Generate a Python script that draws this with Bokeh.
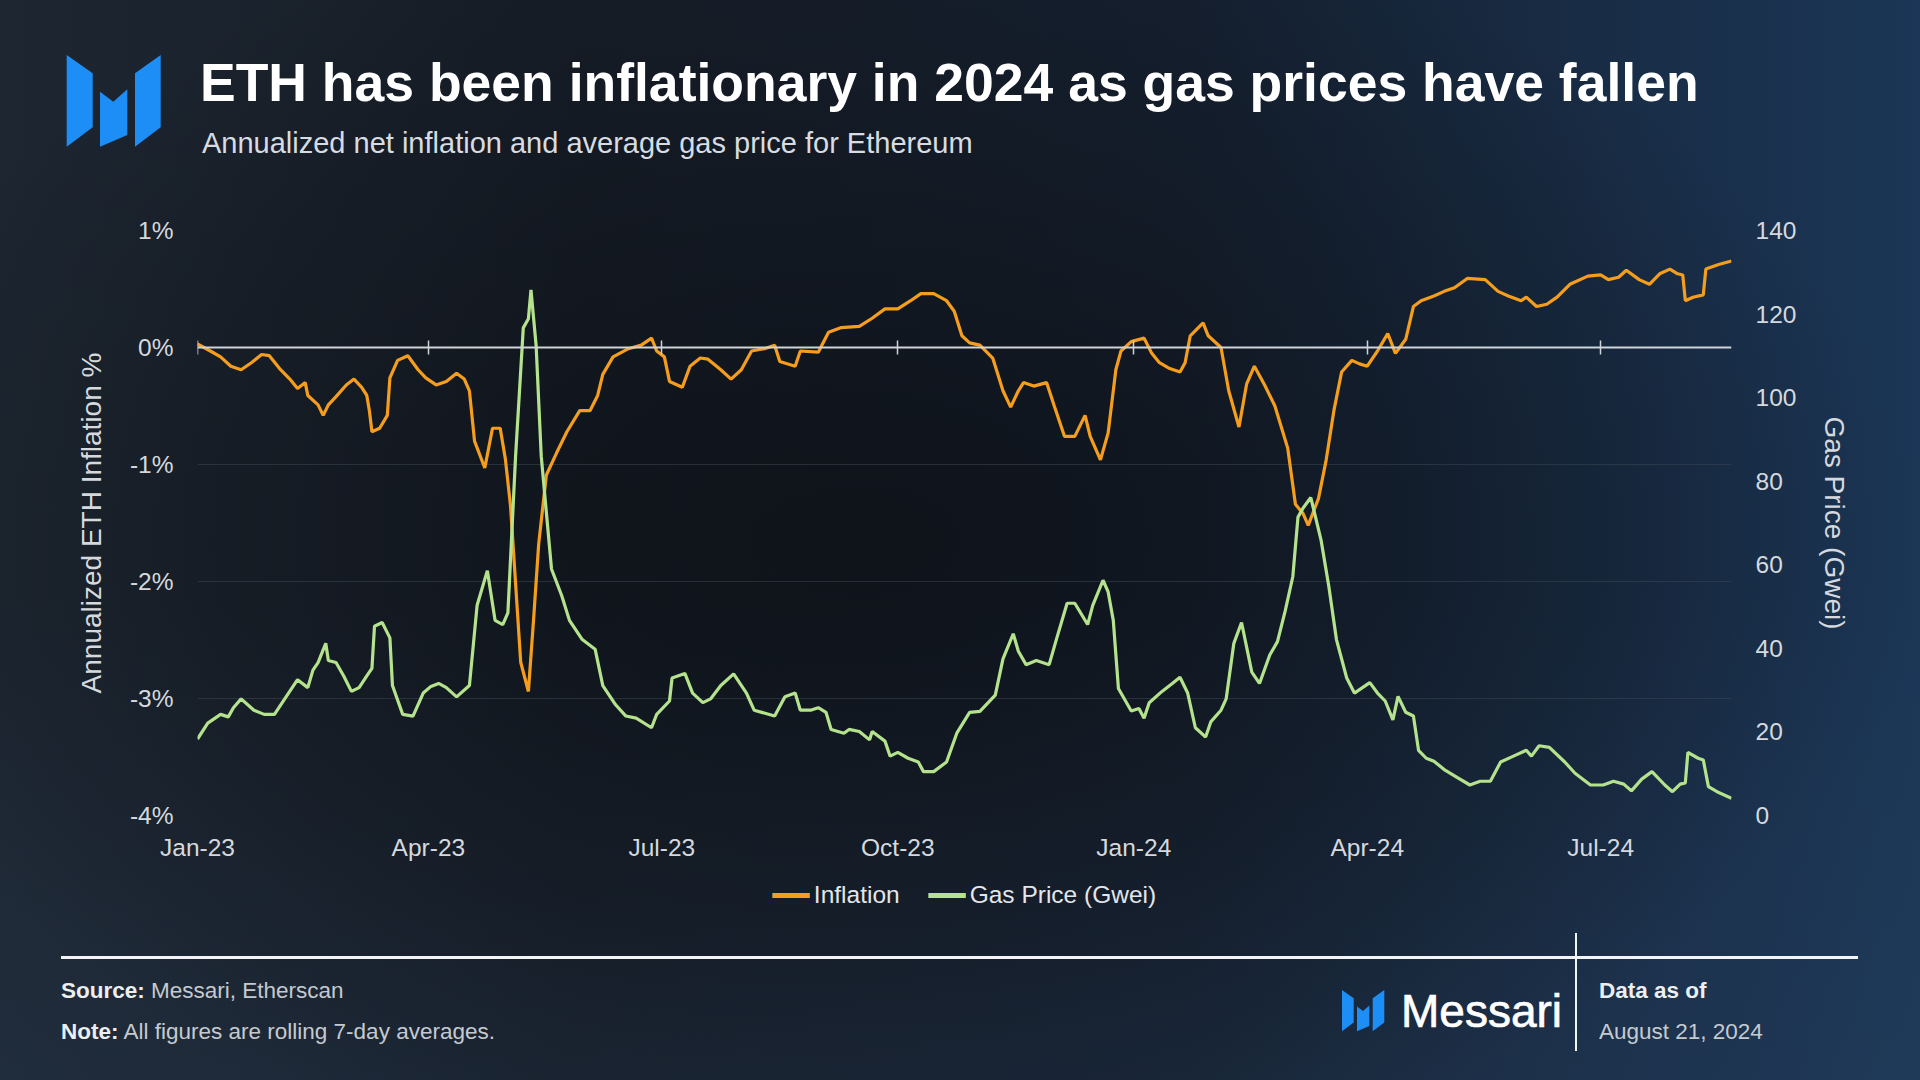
from datetime import datetime, timedelta
from bokeh.plotting import figure
from bokeh.layouts import column
from bokeh.models import (Range1d, LinearAxis, DatetimeAxis, FixedTicker, DatetimeTickFormatter,
                          PrintfTickFormatter, Legend, LegendItem, Div)
from bokeh.embed import file_html
from bokeh.resources import INLINE

# ---------------- data ----------------
START = "2023-01-01"
END = "2024-08-21"

INFL_DAY = [0, 5, 9, 13, 17, 21, 25, 28, 32, 36,
            39, 42, 43, 47, 49, 51, 54, 58, 61, 64,
            66, 67, 68, 71, 74, 75, 78, 82, 86, 89,
            93, 97, 101, 104, 106, 108, 112, 115, 118, 120,
            122, 123, 126, 129, 131, 133, 136, 140, 144, 149,
            153, 156, 158, 162, 168, 173, 177, 179, 182, 184,
            189, 192, 196, 199, 204, 208, 212, 216, 221, 225,
            227, 233, 235, 242, 246, 251, 258, 263, 268, 273,
            278, 282, 287, 292, 295, 298, 301, 305, 310, 314,
            317, 320, 322, 326, 331, 334, 338, 342, 346, 348,
            352, 355, 358, 360, 364, 369, 372, 375, 379, 383,
            385, 387, 392, 394, 399, 402, 406, 409, 412, 416,
            420, 425, 428, 431, 433, 437, 440, 443, 446, 450,
            453, 456, 460, 464, 467, 471, 474, 477, 482, 486,
            490, 495, 502, 507, 511, 516, 518, 522, 526, 530,
            535, 542, 547, 550, 554, 557, 562, 566, 570, 574,
            577, 579, 580, 583, 587, 588, 593, 598]
INFL_PCT = [0.03, -0.03, -0.08, -0.16, -0.19, -0.13, -0.06, -0.07, -0.18, -0.27,
            -0.35, -0.30, -0.41, -0.49, -0.58, -0.49, -0.42, -0.32, -0.27, -0.34,
            -0.41, -0.54, -0.72, -0.69, -0.58, -0.26, -0.11, -0.07, -0.19, -0.26,
            -0.32, -0.29, -0.22, -0.27, -0.37, -0.80, -1.03, -0.69, -0.69, -0.95,
            -1.35, -1.68, -2.69, -2.94, -2.33, -1.68, -1.09, -0.90, -0.72, -0.54,
            -0.54, -0.41, -0.23, -0.08, -0.01, 0.02, 0.08, -0.03, -0.08, -0.29,
            -0.34, -0.16, -0.09, -0.10, -0.19, -0.27, -0.19, -0.03, -0.01, 0.02,
            -0.12, -0.16, -0.03, -0.04, 0.13, 0.17, 0.18, 0.25, 0.33, 0.33,
            0.40, 0.46, 0.46, 0.40, 0.31, 0.10, 0.04, 0.02, -0.09, -0.37,
            -0.51, -0.37, -0.30, -0.33, -0.30, -0.50, -0.76, -0.76, -0.58, -0.76,
            -0.96, -0.73, -0.19, -0.03, 0.05, 0.08, -0.05, -0.13, -0.18, -0.21,
            -0.13, 0.10, 0.21, 0.10, 0.00, -0.37, -0.68, -0.31, -0.16, -0.32,
            -0.50, -0.86, -1.34, -1.42, -1.52, -1.29, -0.96, -0.54, -0.21, -0.11,
            -0.14, -0.16, -0.03, 0.12, -0.05, 0.07, 0.35, 0.40, 0.44, 0.48,
            0.51, 0.59, 0.58, 0.48, 0.44, 0.40, 0.43, 0.35, 0.37, 0.43,
            0.54, 0.61, 0.62, 0.58, 0.60, 0.66, 0.58, 0.54, 0.63, 0.67,
            0.63, 0.62, 0.40, 0.43, 0.45, 0.67, 0.71, 0.74]

GAS_DAY = [0, 4, 9, 12, 14, 17, 22, 26, 30, 34,
           39, 43, 45, 47, 50, 51, 54, 57, 60, 63,
           66, 68, 69, 72, 75, 76, 80, 84, 88, 91,
           94, 97, 101, 106, 109, 113, 116, 119, 121, 124,
           127, 129, 130, 132, 134, 138, 142, 145, 150, 155,
           158, 163, 167, 171, 177, 179, 184, 185, 190, 193,
           197, 200, 204, 209, 214, 217, 225, 229, 233, 235,
           239, 242, 245, 247, 252, 254, 258, 262, 263, 268,
           270, 273, 277, 281, 283, 287, 292, 296, 301, 305,
           311, 314, 318, 320, 323, 327, 332, 335, 339, 342,
           347, 349, 353, 355, 357, 359, 364, 367, 369, 371,
           376, 380, 383, 386, 389, 393, 395, 399, 401, 404,
           407, 411, 414, 418, 421, 424, 427, 429, 431, 434,
           438, 441, 444, 448, 451, 457, 460, 463, 466, 468,
           471, 474, 476, 479, 482, 486, 491, 496, 500, 504,
           508, 513, 518, 520, 523, 527, 533, 537, 543, 548,
           552, 556, 559, 563, 567, 572, 575, 578, 580, 581,
           585, 587, 589, 593, 598]
GAS_GWEI = [18.3, 22.1, 24.2, 23.6, 25.8, 27.9, 25.2, 24.2, 24.2, 27.9,
            32.5, 30.6, 34.8, 36.6, 41.2, 37.1, 36.6, 33.4, 29.7, 30.6,
            33.4, 35.2, 45.3, 46.2, 42.5, 31.1, 24.2, 23.8, 29.3, 30.9,
            31.6, 30.6, 28.4, 31.1, 50.3, 58.6, 46.7, 45.7, 48.5, 86.0,
            116.7, 118.9, 125.8, 112.5, 86.0, 59.0, 52.6, 46.7, 42.1, 39.8,
            31.1, 26.5, 23.8, 23.3, 21.0, 24.2, 27.4, 32.9, 34.0, 29.3,
            27.0, 27.9, 31.1, 33.9, 29.3, 25.2, 23.8, 28.4, 29.3, 25.2,
            25.2, 25.8, 24.7, 20.6, 19.7, 20.6, 20.1, 18.1, 20.1, 17.8,
            14.2, 15.1, 13.7, 12.8, 10.5, 10.5, 12.8, 19.7, 24.7, 24.9,
            28.8, 37.5, 43.5, 39.3, 36.1, 37.1, 36.1, 42.5, 50.8, 50.8,
            45.7, 50.3, 56.3, 53.5, 46.7, 30.4, 25.0, 25.6, 23.3, 27.0,
            29.7, 31.6, 33.1, 29.3, 21.0, 18.8, 22.4, 25.2, 27.9, 41.2,
            46.2, 34.3, 31.6, 38.4, 41.6, 48.9, 57.2, 71.4, 73.6, 76.1,
            65.9, 54.9, 42.1, 32.9, 29.3, 31.8, 29.3, 27.4, 22.9, 28.5,
            24.7, 23.8, 15.6, 13.7, 13.0, 11.0, 9.1, 7.3, 8.2, 8.2,
            12.8, 14.2, 15.6, 14.2, 16.7, 16.3, 12.8, 10.1, 7.3, 7.3,
            8.2, 7.5, 5.9, 8.7, 10.5, 7.3, 5.7, 7.5, 7.8, 15.1,
            13.7, 13.3, 6.9, 5.5, 4.1]

XTICK_DATES = ["2023-01-01", "2023-04-01", "2023-07-01", "2023-10-01",
               "2024-01-01", "2024-04-01", "2024-07-01"]
INFL_TICKS = [-4, -3, -2, -1, 0, 1]
GAS_TICKS = [0, 20, 40, 60, 80, 100, 120, 140]

TITLE = "ETH has been inflationary in 2024 as gas prices have fallen"
SUBTITLE = "Annualized net inflation and average gas price for Ethereum"
SERIES_NAMES = ["Inflation", "Gas Price (Gwei)"]

assert len(INFL_DAY) == len(INFL_PCT)
assert len(GAS_DAY) == len(GAS_GWEI)

# ---------------- helpers ----------------
def parse(s):
    return datetime.strptime(s, "%Y-%m-%d")

EPOCH = datetime(1970, 1, 1)
def ms(d):
    return (d - EPOCH).total_seconds() * 1000.0

start = parse(START)
end = parse(END)
infl_x = [start + timedelta(days=d) for d in INFL_DAY]
gas_x = [start + timedelta(days=d) for d in GAS_DAY]
xticks = [ms(parse(s)) for s in XTICK_DATES]

FONT = "Liberation Sans"
CSS_FONT = "'Liberation Sans', Arial, sans-serif"
ORANGE = "#F59E1E"
GREEN = "#B5E28C"
TXT = "#d5d9de"
BLUE = "#1E8EF7"
W = 1920
HEAD_H = 200          # rows 0..200
MAIN_H = 665          # rows 200..865
LEG_H = 60            # rows 865..925
FOOT_H = 1080 - HEAD_H - MAIN_H - LEG_H   # rows 925..1080
FL, FR = 197, 1731    # frame left/right
FT, FB = 230, 815     # frame top/bottom

LOGO = [
    [(0, 0), (26, 18.3), (26, 72.3), (0, 91.7)],
    [(33.3, 36.7), (46.6, 46.7), (60.6, 34.3), (60.6, 80), (33.3, 91.7)],
    [(68.3, 18.3), (94, 0), (94, 72.3), (68.3, 91.7)],
]


def logo_svg(ox, oy, s):
    return "".join(
        '<polygon points="%s" fill="%s"/>' % (" ".join("%.1f,%.1f" % (ox + a * s, oy + b * s) for a, b in poly), BLUE)
        for poly in LOGO)


def abs_text(left, top, s, size, color, bold=False, extra=""):
    return ('<div style="position:absolute;left:%.1fpx;top:%.1fpx;font-size:%spx;line-height:1.2;'
            'white-space:nowrap;color:%s;font-weight:%s;%s">%s</div>'
            % (left, top, size, color, "bold" if bold else "normal", extra, s))


def top_for_baseline(baseline, size):
    return baseline - 0.9465 * size


# ---------------- header ----------------
head_html = (
    '<div style="position:relative;width:%dpx;height:%dpx;font-family:%s;">' % (W, HEAD_H, CSS_FONT)
    + '<svg style="position:absolute;left:0;top:0" width="%d" height="%d">%s</svg>' % (W, HEAD_H, logo_svg(66.7, 55, 1.0))
    + abs_text(200, top_for_baseline(101.5, 53.5), TITLE, 53.5, "#ffffff", bold=True)
    + abs_text(202, top_for_baseline(153, 29), SUBTITLE, 29, "#d8dce1")
    + '</div>')
head = Div(text=head_html, width=W, height=HEAD_H, margin=0)

# ---------------- main chart ----------------
p = figure(width=W, height=MAIN_H, output_backend="svg", toolbar_location=None,
           x_axis_type=None, y_axis_location=None,
           x_range=Range1d(start, end), y_range=Range1d(-4, 1))
p.min_border_left = FL
p.min_border_right = W - FR
p.min_border_top = FT - HEAD_H
p.min_border_bottom = HEAD_H + MAIN_H - FB
p.background_fill_alpha = 0
p.border_fill_alpha = 0
p.outline_line_color = None
p.extra_y_ranges = {"gas": Range1d(0, 140)}

xfmt = DatetimeTickFormatter(days="%b-%y", months="%b-%y", years="%b-%y",
                             hours="%b-%y", minutes="%b-%y", seconds="%b-%y",
                             milliseconds="%b-%y", microseconds="%b-%y")
xaxis = DatetimeAxis(ticker=FixedTicker(ticks=xticks), formatter=xfmt,
                     axis_line_color=None, major_tick_line_color=None, minor_tick_line_color=None,
                     major_tick_out=0, major_tick_in=0, major_label_standoff=18,
                     major_label_text_font=FONT, major_label_text_font_size="24.5px",
                     major_label_text_color=TXT)
p.add_layout(xaxis, "below")

zero_axis = DatetimeAxis(ticker=FixedTicker(ticks=xticks), formatter=xfmt, fixed_location=0,
                         axis_line_color="#cfd4da", axis_line_width=2,
                         major_tick_line_color="#cfd4da", major_tick_line_width=1.5,
                         major_tick_in=7, major_tick_out=7, minor_tick_line_color=None,
                         major_label_text_font_size="1px", major_label_text_alpha=0)
p.add_layout(zero_axis, "above")

yaxis = LinearAxis(ticker=FixedTicker(ticks=INFL_TICKS), formatter=PrintfTickFormatter(format="%d%%"),
                   axis_line_color=None, major_tick_line_color=None, minor_tick_line_color=None,
                   major_tick_out=0, major_tick_in=0, major_label_standoff=24,
                   major_label_text_font=FONT, major_label_text_font_size="24.5px",
                   major_label_text_color=TXT,
                   axis_label="Annualized ETH Inflation %", axis_label_text_font=FONT,
                   axis_label_text_font_size="28px", axis_label_text_font_style="normal",
                   axis_label_text_color=TXT, axis_label_standoff=20)
p.add_layout(yaxis, "left")

gaxis = LinearAxis(y_range_name="gas", ticker=FixedTicker(ticks=GAS_TICKS),
                   axis_line_color=None, major_tick_line_color=None, minor_tick_line_color=None,
                   major_tick_out=0, major_tick_in=0, major_label_standoff=24,
                   major_label_text_font=FONT, major_label_text_font_size="24.5px",
                   major_label_text_color=TXT,
                   axis_label="Gas Price (Gwei)", axis_label_text_font=FONT,
                   axis_label_text_font_size="28px", axis_label_text_font_style="normal",
                   axis_label_text_color=TXT, axis_label_standoff=20)
p.add_layout(gaxis, "right")

p.xgrid.visible = False
p.ygrid.ticker = FixedTicker(ticks=INFL_TICKS)
p.ygrid.grid_line_color = "#3a4552"
p.ygrid.grid_line_alpha = 0.55
p.ygrid.grid_line_width = 1

p.line(infl_x, INFL_PCT, line_color=ORANGE, line_width=3.2)
p.line(gas_x, GAS_GWEI, line_color=GREEN, line_width=3.2, y_range_name="gas")

# ---------------- legend strip ----------------
NAN = float("nan")
lg = figure(width=W, height=LEG_H, output_backend="svg", toolbar_location=None,
            x_axis_type=None, y_axis_type=None, x_range=Range1d(0, 1), y_range=Range1d(0, 1))
lg.min_border = 0
lg.min_border_left = lg.min_border_right = lg.min_border_top = lg.min_border_bottom = 0
lg.background_fill_alpha = 0
lg.border_fill_alpha = 0
lg.outline_line_color = None
lg.grid.visible = False
# legend keys only (no visible data)
k_inf = lg.line(x=[NAN], y=[NAN], line_color=ORANGE, line_width=5)
k_gas = lg.line(x=[NAN], y=[NAN], line_color=GREEN, line_width=5)
legend = Legend(items=[LegendItem(label=SERIES_NAMES[0], renderers=[k_inf]),
                       LegendItem(label=SERIES_NAMES[1], renderers=[k_gas])],
                orientation="horizontal", location="center",
                background_fill_alpha=0, border_line_color=None,
                label_text_font=FONT, label_text_font_size="24.5px", label_text_color="#e3e6ea",
                glyph_width=38, glyph_height=24, label_standoff=4, spacing=28,
                padding=4, margin=0)
lg.add_layout(legend)

# ---------------- footer ----------------
FY = HEAD_H + MAIN_H + LEG_H
fs = 22.5
foot_html = (
    '<div style="position:relative;width:%dpx;height:%dpx;font-family:%s;">' % (W, FOOT_H, CSS_FONT)
    + '<div style="position:absolute;left:61px;top:%.1fpx;width:1797px;height:3px;background:#f2f4f6;"></div>' % (955.5 - FY)
    + '<div style="position:absolute;left:1575px;top:%.1fpx;width:2px;height:118px;background:#f2f4f6;"></div>' % (933 - FY)
    + '<svg style="position:absolute;left:0;top:0" width="%d" height="%d">%s</svg>' % (W, FOOT_H, logo_svg(1342, 990 - FY, 0.45))
    + abs_text(61, top_for_baseline(998, fs) - FY,
               '<b style="color:#eceef0">Source:</b> Messari, Etherscan', fs, "#c5cad0")
    + abs_text(61, top_for_baseline(1039.5, fs) - FY,
               '<b style="color:#eceef0">Note:</b> All figures are rolling 7-day averages.', fs, "#c5cad0")
    + abs_text(1401, top_for_baseline(1027, 46) - FY, "Messari", 46, "#ffffff",
               extra="-webkit-text-stroke:0.7px #ffffff;")
    + abs_text(1599, top_for_baseline(998, fs) - FY, "Data as of", fs, "#eceef0", bold=True)
    + abs_text(1599, top_for_baseline(1039.5, fs) - FY, "August 21, 2024", fs, "#c5cad0")
    + '</div>')
foot = Div(text=foot_html, width=W, height=FOOT_H, margin=0)

page = column(head, p, lg, foot, spacing=0)
page.styles = {"background":
               "radial-gradient(ellipse 55% 60% at 45% 50%, rgba(13,17,23,0.85) 0%, rgba(13,17,23,0) 100%),"
               "linear-gradient(180deg, rgba(0,0,0,0) 55%, rgba(45,70,100,0.22) 100%),"
               "linear-gradient(90deg, #1d2631 0%, #161d27 30%, #152030 62%, #1b3656 100%)"}

open("out.html", "w").write(file_html(page, INLINE))
